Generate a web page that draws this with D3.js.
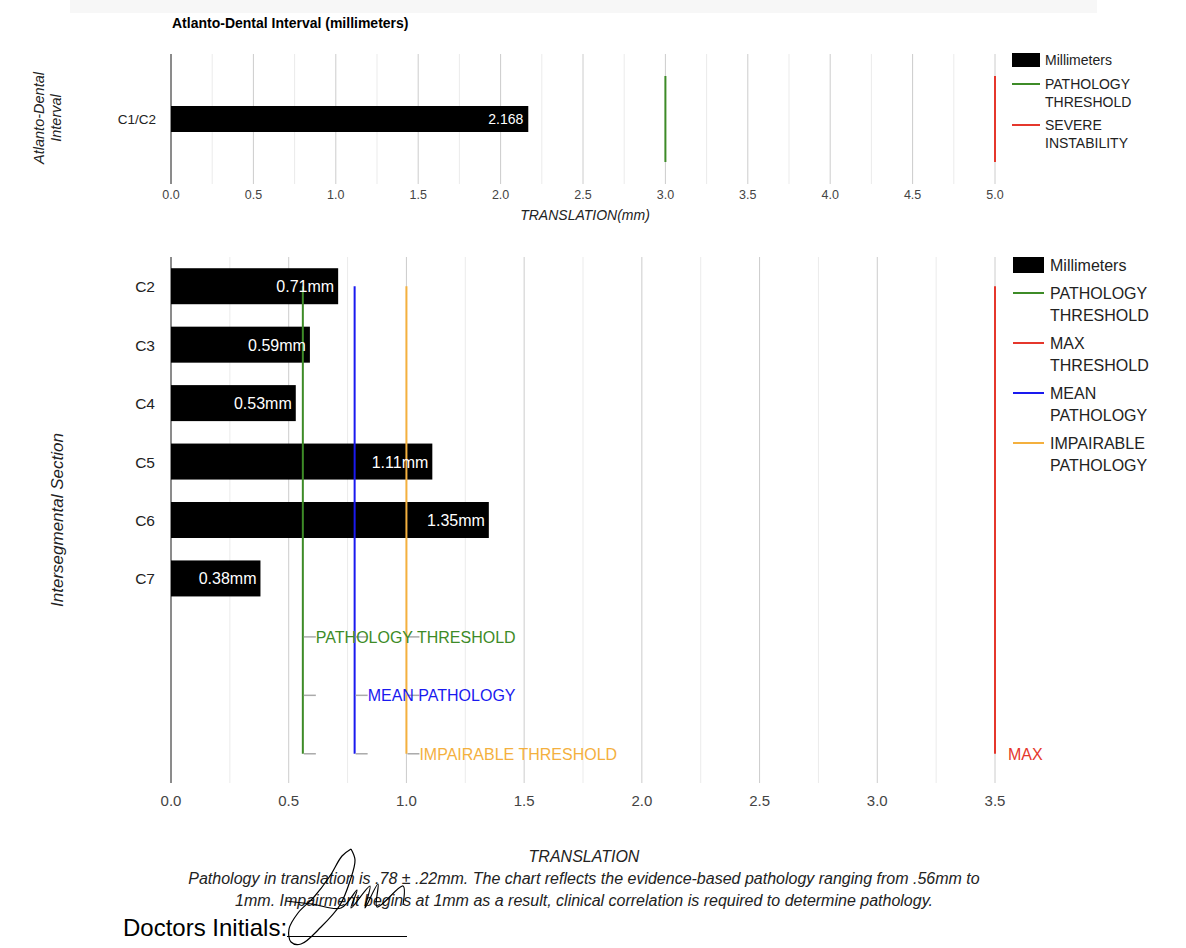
<!DOCTYPE html>
<html lang="en">
<head>
<meta charset="UTF-8" />
<title>Translation chart</title>
<script src="https://d3js.org/d3.v7.min.js"></script>
<style>
  body { margin: 0; background: #fff; }
  svg text { font-family: "Liberation Sans", Arial, sans-serif; }
</style>
</head>
<body>
<svg width="1186" height="948"></svg>
<script>
// top chart data
const adiCategories = ['C1/C2'];
const adiValues = [2.168];
const adiTicks = [0, 0.5, 1, 1.5, 2, 2.5, 3, 3.5, 4, 4.5, 5];
const adiLines = [
  { name: 'PATHOLOGY THRESHOLD', value: 3.0, color: '#3d8b27' },
  { name: 'SEVERE INSTABILITY', value: 5.0, color: '#e5372c' }
];

// bottom chart data
const segCategories = ['C2', 'C3', 'C4', 'C5', 'C6', 'C7'];
const segValues = [0.71, 0.59, 0.53, 1.11, 1.35, 0.38];
const annotationRows = ['a1', 'a2', 'a3'];
const segTicks = [0, 0.5, 1, 1.5, 2, 2.5, 3, 3.5];
const segLines = [
  { name: 'PATHOLOGY THRESHOLD', legend: ['PATHOLOGY', 'THRESHOLD'], value: 0.56, color: '#3d8b27', label: 'PATHOLOGY THRESHOLD', row: 'a1', stubs: true },
  { name: 'MAX THRESHOLD', legend: ['MAX', 'THRESHOLD'], value: 3.5, color: '#e5372c', label: 'MAX', row: 'a3', stubs: false },
  { name: 'MEAN PATHOLOGY', legend: ['MEAN', 'PATHOLOGY'], value: 0.78, color: '#1a1aef', label: 'MEAN PATHOLOGY', row: 'a2', stubs: true },
  { name: 'IMPAIRABLE PATHOLOGY', legend: ['IMPAIRABLE', 'PATHOLOGY'], value: 1.0, color: '#f4b03e', label: 'IMPAIRABLE THRESHOLD', row: 'a3', stubs: true }
];

const footnote = [
  'Pathology in translation is .78 \u00b1 .22mm. The chart reflects the evidence-based pathology ranging from .56mm to',
  '1mm. Impairment begins at 1mm as a result, clinical correlation is required to determine pathology.'
];

// handwritten initials (decoration)
const sigLoop = [[351,849],[342,856],[330,876],[314,897],[298,913],[289,929],[291,942],[301,944],[321,927],[340,905],[350,881],[355,860],[351,849]];
const sigStroke = [[286,901],[312,904],[341,908],[357,890],[351,908],[370,886],[365,908],[378,884],[377,907],[403,886],[403,905]];

const svg = d3.select('svg');

// light band at top
svg.append('rect').attr('x', 70).attr('y', 0).attr('width', 1027).attr('height', 13).attr('fill', '#f7f7f7');

// ---------- top chart ----------
const xTop = d3.scaleLinear().domain([0, 5]).range([171, 995]);
const yTop = d3.scaleBand().domain(adiCategories).range([54, 184]).paddingInner(0).paddingOuter(0);
const topG = svg.append('g');

topG.append('text').attr('x', 172).attr('y', 28).attr('font-size', 14).attr('font-weight', 'bold').attr('fill', '#000')
  .text('Atlanto-Dental Interval (millimeters)');

const topGrid = d3.range(0, 5.001, 0.25);
topG.selectAll('.grid').data(topGrid).enter().append('line')
  .attr('x1', d => xTop(d)).attr('x2', d => xTop(d))
  .attr('y1', 54).attr('y2', 184)
  .attr('stroke', d => (Math.round(d * 100) % 50 === 0 ? '#cccccc' : '#ebebeb'));

topG.append('line').attr('x1', xTop(0)).attr('x2', xTop(0)).attr('y1', 54).attr('y2', 184).attr('stroke', '#333');

topG.selectAll('.bar').data(adiValues).enter().append('rect')
  .attr('x', xTop(0)).attr('y', (d, i) => yTop(adiCategories[i]) + yTop.bandwidth() / 2 - 13)
  .attr('width', d => xTop(d) - xTop(0)).attr('height', 26).attr('fill', '#000');

topG.selectAll('.barlabel').data(adiValues).enter().append('text')
  .attr('x', d => xTop(d) - 5).attr('y', (d, i) => yTop(adiCategories[i]) + yTop.bandwidth() / 2 + 5)
  .attr('text-anchor', 'end').attr('font-size', 14).attr('fill', '#fff').text(d => d);

topG.selectAll('.thr').data(adiLines).enter().append('line')
  .attr('x1', d => xTop(d.value)).attr('x2', d => xTop(d.value))
  .attr('y1', yTop('C1/C2') + yTop.bandwidth() / 2 - 43).attr('y2', yTop('C1/C2') + yTop.bandwidth() / 2 + 43)
  .attr('stroke', d => d.color).attr('stroke-width', 2);

topG.selectAll('.cat').data(adiCategories).enter().append('text')
  .attr('x', 156).attr('y', d => yTop(d) + yTop.bandwidth() / 2 + 5)
  .attr('text-anchor', 'end').attr('font-size', 13.5).attr('fill', '#222').text(d => d);

topG.selectAll('.tick').data(adiTicks).enter().append('text')
  .attr('x', d => xTop(d)).attr('y', 199).attr('text-anchor', 'middle')
  .attr('font-size', 12.5).attr('fill', '#444').text(d => d3.format('.1f')(d));

topG.append('text').attr('x', 585).attr('y', 220).attr('text-anchor', 'middle')
  .attr('font-size', 14).attr('font-style', 'italic').attr('fill', '#222').text('TRANSLATION(mm)');

const topYTitle = topG.append('text').attr('transform', 'translate(48,118) rotate(-90)')
  .attr('text-anchor', 'middle').attr('font-size', 14.5).attr('font-style', 'italic').attr('fill', '#222');
topYTitle.append('tspan').attr('x', 0).attr('y', -4).text('Atlanto-Dental');
topYTitle.append('tspan').attr('x', 0).attr('y', 13).text('Interval');

// top legend
const topLeg = svg.append('g').attr('transform', 'translate(1012,0)');
topLeg.append('rect').attr('x', 0).attr('y', 53).attr('width', 28).attr('height', 14).attr('fill', '#000');
topLeg.append('text').attr('x', 33).attr('y', 65).attr('font-size', 14).attr('fill', '#222').text('Millimeters');
const topLegLines = [['PATHOLOGY', 'THRESHOLD'], ['SEVERE', 'INSTABILITY']];
adiLines.forEach((l, i) => {
  const y0 = 84 + i * 41;
  topLeg.append('line').attr('x1', 0).attr('x2', 28).attr('y1', y0).attr('y2', y0).attr('stroke', l.color).attr('stroke-width', 2);
  topLegLines[i].forEach((t, j) => {
    topLeg.append('text').attr('x', 33).attr('y', y0 + 5 + j * 18).attr('font-size', 14).attr('fill', '#222').text(t);
  });
});

// ---------- bottom chart ----------
const xBot = d3.scaleLinear().domain([0, 3.5]).range([171, 995]);
const yBot = d3.scaleBand().domain(segCategories.concat(annotationRows)).range([257, 783]).paddingInner(0).paddingOuter(0);
const bot = svg.append('g');
const mid = c => yBot(c) + yBot.bandwidth() / 2;

const botGrid = d3.range(0, 3.501, 0.25);
bot.selectAll('.grid').data(botGrid).enter().append('line')
  .attr('x1', d => xBot(d)).attr('x2', d => xBot(d))
  .attr('y1', 257).attr('y2', 783)
  .attr('stroke', d => (Math.round(d * 100) % 50 === 0 ? '#cccccc' : '#ebebeb'));

bot.append('line').attr('x1', xBot(0)).attr('x2', xBot(0)).attr('y1', 257).attr('y2', 783).attr('stroke', '#333');

bot.selectAll('.bar').data(segValues).enter().append('rect')
  .attr('x', xBot(0)).attr('y', (d, i) => mid(segCategories[i]) - 18)
  .attr('width', d => xBot(d) - xBot(0)).attr('height', 36).attr('fill', '#000');

// threshold lines
const lineTop = mid('C2');
const lineBottom = mid('a3');
bot.selectAll('.thr').data(segLines).enter().append('line')
  .attr('x1', d => xBot(d.value)).attr('x2', d => xBot(d.value))
  .attr('y1', lineTop).attr('y2', lineBottom)
  .attr('stroke', d => d.color).attr('stroke-width', 2);

// annotation stubs
segLines.filter(d => d.stubs).forEach(l => {
  annotationRows.forEach(r => {
    bot.append('line').attr('x1', xBot(l.value) + 1).attr('x2', xBot(l.value) + 13)
      .attr('y1', mid(r)).attr('y2', mid(r)).attr('stroke', '#aaa').attr('stroke-width', 1.5);
  });
});

bot.selectAll('.barlabel').data(segValues).enter().append('text')
  .attr('x', d => xBot(d) - 4).attr('y', (d, i) => mid(segCategories[i]) + 6)
  .attr('text-anchor', 'end').attr('font-size', 16).attr('fill', '#fff').text(d => d3.format('.2f')(d) + 'mm');

bot.selectAll('.annot').data(segLines).enter().append('text')
  .attr('x', d => xBot(d.value) + 13).attr('y', d => mid(d.row) + 6)
  .attr('font-size', 16).attr('fill', d => d.color).text(d => d.label);

bot.selectAll('.cat').data(segCategories).enter().append('text')
  .attr('x', 155).attr('y', d => mid(d) + 6)
  .attr('text-anchor', 'end').attr('font-size', 15.5).attr('fill', '#222').text(d => d);

bot.selectAll('.tick').data(segTicks).enter().append('text')
  .attr('x', d => xBot(d)).attr('y', 806).attr('text-anchor', 'middle')
  .attr('font-size', 15).attr('fill', '#444').text(d => d3.format('.1f')(d));

bot.append('text').attr('x', 584).attr('y', 862).attr('text-anchor', 'middle')
  .attr('font-size', 16).attr('font-style', 'italic').attr('fill', '#222').text('TRANSLATION');

bot.append('text').attr('transform', 'translate(63,520) rotate(-90)')
  .attr('text-anchor', 'middle').attr('font-size', 17).attr('font-style', 'italic').attr('fill', '#222')
  .text('Intersegmental Section');

// bottom legend
const botLeg = svg.append('g').attr('transform', 'translate(1013,0)');
botLeg.append('rect').attr('x', 0).attr('y', 257).attr('width', 31).attr('height', 16).attr('fill', '#000');
botLeg.append('text').attr('x', 37).attr('y', 271).attr('font-size', 16).attr('fill', '#222').text('Millimeters');
segLines.forEach((l, i) => {
  const y0 = 293 + i * 50;
  botLeg.append('line').attr('x1', 0).attr('x2', 31).attr('y1', y0).attr('y2', y0).attr('stroke', l.color).attr('stroke-width', 2);
  l.legend.forEach((t, j) => {
    botLeg.append('text').attr('x', 37).attr('y', y0 + 6 + j * 22).attr('font-size', 16).attr('fill', '#222').text(t);
  });
});

// footnote
footnote.forEach((t, i) => {
  svg.append('text').attr('x', 584).attr('y', 884 + i * 22).attr('text-anchor', 'middle')
    .attr('font-size', 16).attr('font-style', 'italic').attr('fill', '#222').text(t);
});

svg.append('text').attr('x', 123).attr('y', 936).attr('font-size', 24).attr('fill', '#000').text('Doctors Initials:');
svg.append('line').attr('x1', 287).attr('x2', 407).attr('y1', 936.5).attr('y2', 936.5).attr('stroke', '#000').attr('stroke-width', 1);

const sigLine = d3.line().curve(d3.curveCatmullRom.alpha(0.5));
svg.append('path').attr('d', sigLine(sigLoop)).attr('fill', 'none').attr('stroke', '#000').attr('stroke-width', 1.2);
svg.append('path').attr('d', sigLine(sigStroke)).attr('fill', 'none').attr('stroke', '#000').attr('stroke-width', 1.2);
</script>
</body>
</html>
